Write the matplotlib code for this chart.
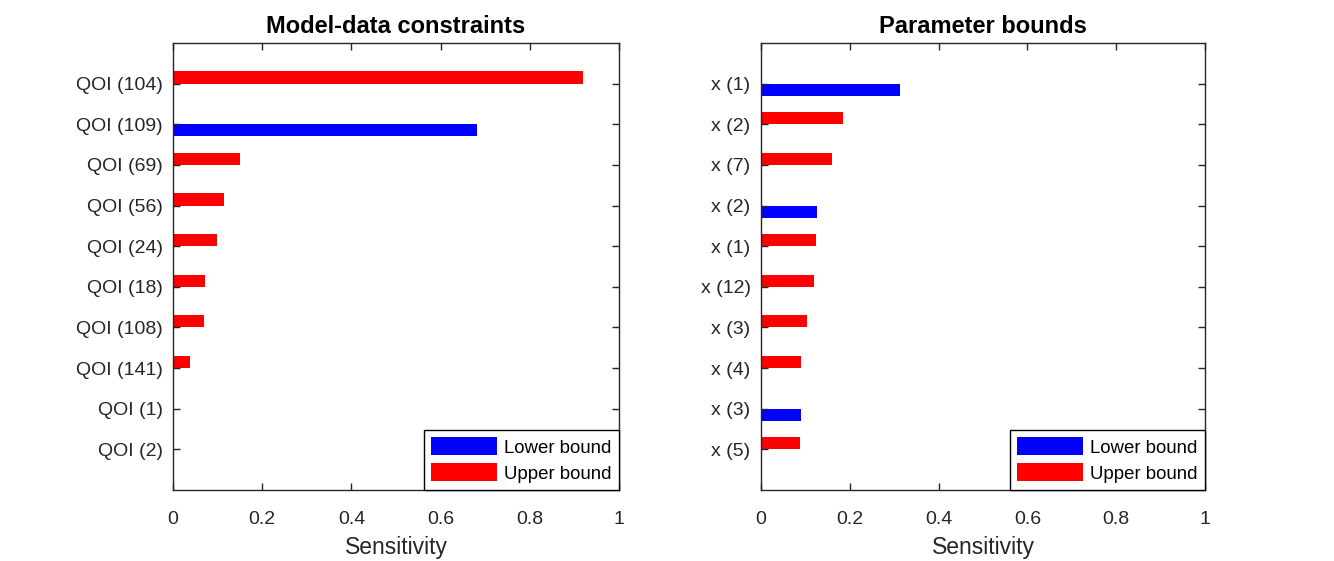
import matplotlib
matplotlib.use("Agg")
import matplotlib.pyplot as plt
import numpy as np

plt.rcParams['font.family'] = ['Liberation Sans', 'DejaVu Sans']

# ---- data ----
left_labels = ["QOI (104)", "QOI (109)", "QOI (69)", "QOI (56)", "QOI (24)",
               "QOI (18)", "QOI (108)", "QOI (141)", "QOI (1)", "QOI (2)"]
left_lower = [0.002, 0.682, 0.002, 0.002, 0.002, 0.002, 0.002, 0.002, 0.002, 0.002]
left_upper = [0.919, 0.002, 0.150, 0.114, 0.099, 0.072, 0.069, 0.037, 0.003, 0.003]

right_labels = ["x (1)", "x (2)", "x (7)", "x (2)", "x (1)",
                "x (12)", "x (3)", "x (4)", "x (3)", "x (5)"]
right_lower = [0.314, 0.001, 0.001, 0.127, 0.001, 0.001, 0.001, 0.001, 0.090, 0.001]
right_upper = [0.002, 0.184, 0.160, 0.002, 0.123, 0.119, 0.103, 0.091, 0.002, 0.088]

titles = ["Model-data constraints", "Parameter bounds"]
xticks = [0, 0.2, 0.4, 0.6, 0.8, 1]
xticklabels = ["0", "0.2", "0.4", "0.6", "0.8", "1"]

W, H = 1334, 561
fig = plt.figure(figsize=(W / 100, H / 100), dpi=100)

axes_px = [(173, 619), (761, 1205)]
top_px, bot_px = 43, 490
dark = (0.15, 0.15, 0.15)
bw = 0.30

panels = [(left_labels, left_lower, left_upper), (right_labels, right_lower, right_upper)]
for (x0, x1), title, (labels, lower, upper) in zip(axes_px, titles, panels):
    ax = fig.add_axes([x0 / W, (H - bot_px) / H, (x1 - x0) / W, (bot_px - top_px) / H])
    y = np.arange(1, len(labels) + 1)
    ax.barh(y + bw / 2, lower, height=bw, color='#0000ff', label='Lower bound')
    ax.barh(y - bw / 2, upper, height=bw, color='#ff0000', label='Upper bound')
    ax.set_ylim(len(labels) + 1, 0)
    ax.set_xlim(0, 1)
    ax.set_yticks(y)
    ax.set_yticklabels(labels)
    ax.set_xticks(xticks)
    ax.set_xticklabels(xticklabels)
    ax.tick_params(direction='in', length=5, width=1, colors=dark, labelsize=14,
                   top=True, right=True)
    ax.tick_params(axis='x', pad=15)
    ax.tick_params(axis='y', pad=7.5)
    for s in ax.spines.values():
        s.set_color(dark)
        s.set_linewidth(1)
    ax.set_xlabel("Sensitivity", fontsize=16.5, color=dark, labelpad=6)
    ax.set_title(title, fontsize=17, fontweight='bold', pad=7)
    leg = ax.legend(loc='lower right', borderaxespad=0, fontsize=13.4,
                    handlelength=3.5, handleheight=1.15, fancybox=False,
                    framealpha=1, edgecolor='black', borderpad=0.4,
                    labelspacing=0.35, handletextpad=0.4)
    leg.get_frame().set_linewidth(1)

fig.savefig("out.png", dpi=100)
